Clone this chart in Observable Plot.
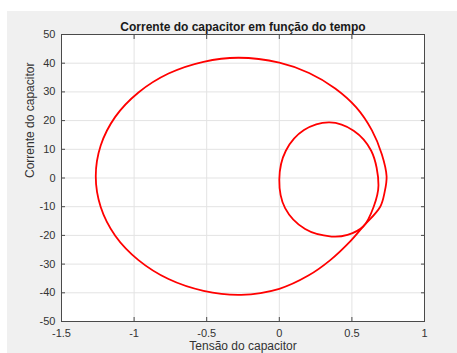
<!DOCTYPE html>
<html>
<head>
<meta charset="utf-8">
<script src="https://cdn.jsdelivr.net/npm/d3@7"></script>
<script src="https://cdn.jsdelivr.net/npm/@observablehq/plot@0.6"></script>
<style>
  html, body { margin: 0; padding: 0; background: #ffffff; }
  #wrap { position: relative; width: 457px; height: 353px; overflow: hidden; }
  #bg { position: absolute; left: 7px; top: 11px; width: 450px; height: 342px; background: #f0f0f0; }
  #chart { position: absolute; left: 0; top: 0; }
  svg { font-family: "Liberation Sans", Arial, sans-serif; }
</style>
</head>
<body>
<div id="wrap"><div id="bg"></div><div id="chart"></div></div>
<script>
const titleText = "Corrente do capacitor em função do tempo";
const xLabelText = "Tensão do capacitor";
const yLabelText = "Corrente do capacitor";

const xTicks = [-1.5, -1, -0.5, 0, 0.5, 1];
const yTicks = [-50, -40, -30, -20, -10, 0, 10, 20, 30, 40, 50];

// Large loop (voltage, current)
const bigV = [-1.264, -1.230, -1.130, -0.970, -0.763, -0.522, -0.28, 0, 0.205, 0.385, 0.53, 0.638, 0.706, 0.739,
              0.725, 0.695, 0.578, 0.49, 0.349, 0.2, 0, -0.263, -0.522, -0.763, -0.970, -1.130, -1.230];
const bigI = [0.6, 11.3, 21.3, 29.8, 36.4, 40.5, 41.9, 40.2, 36.6, 31.2, 24.6, 16.6, 8.3, 0.5,
              -5, -10, -16.9, -22, -28.7, -34, -38.6, -40.7, -39.3, -35.2, -28.6, -20.1, -10.1];

// Small loop (voltage, current)
const smallV = [0, 0.045, 0.17, 0.346, 0.512, 0.633, 0.683, 0.65, 0.578, 0.47, 0.36, 0.178, 0.04];
const smallI = [-0.5, 9.5, 16.7, 19.4, 16.5, 9.5, -2.5, -10, -16.9, -19.8, -20.4, -17.8, -10.5];

const pts = [
  ...bigV.map((v, k) => ({v, i: bigI[k], loop: "big"})),
  ...smallV.map((v, k) => ({v, i: smallI[k], loop: "small"}))
];

const axisColor = "#4a4a4a";
const gridColor = "#e3e3e3";

const chart = Plot.plot({
  width: 457,
  height: 353,
  marginLeft: 61,
  marginRight: 33,
  marginTop: 34,
  marginBottom: 32,
  style: {background: "transparent", fontFamily: "'Liberation Sans', Arial, sans-serif", fontSize: "11px", overflow: "visible"},
  x: {domain: [-1.5, 1], ticks: xTicks},
  y: {domain: [-50, 50], ticks: yTicks},
  marks: [
    Plot.frame({fill: "white", stroke: null}),
    Plot.gridX(xTicks, {stroke: gridColor, strokeOpacity: 1}),
    Plot.gridY(yTicks, {stroke: gridColor, strokeOpacity: 1}),
    Plot.axisX(xTicks, {anchor: "bottom", tickSize: 0, tickPadding: 8, label: null, fill: "#333", tickFormat: d => String(d)}),
    Plot.axisY(yTicks, {anchor: "left", tickSize: 0, tickPadding: 6, label: null, fill: "#333", tickFormat: d => String(d)}),
    Plot.axisX(xTicks, {anchor: "bottom", tickSize: -4, label: null, stroke: axisColor, tickFormat: () => ""}),
    Plot.axisX(xTicks, {anchor: "top", tickSize: -4, label: null, stroke: axisColor, tickFormat: () => ""}),
    Plot.axisY(yTicks, {anchor: "left", tickSize: -4, label: null, stroke: axisColor, tickFormat: () => ""}),
    Plot.axisY(yTicks, {anchor: "right", tickSize: -4, label: null, stroke: axisColor, tickFormat: () => ""}),
    Plot.line(pts, {x: "v", y: "i", z: "loop", stroke: "#ff0000", strokeWidth: 1.8, curve: "catmull-rom-closed"}),
    Plot.frame({stroke: axisColor, strokeWidth: 1}),
    Plot.text([titleText], {text: d => d, frameAnchor: "top", lineAnchor: "bottom", dy: -4, fontWeight: "bold", fontSize: 12, fill: "#1a1a1a"}),
    Plot.text([xLabelText], {text: d => d, frameAnchor: "bottom", lineAnchor: "top", dy: 20, fontSize: 12, fill: "#333"}),
    Plot.text([yLabelText], {text: d => d, frameAnchor: "left", rotate: -90, lineAnchor: "bottom", dx: -27.5, fontSize: 12, fill: "#333"})
  ]
});
document.getElementById("chart").appendChild(chart);
</script>
</body>
</html>
